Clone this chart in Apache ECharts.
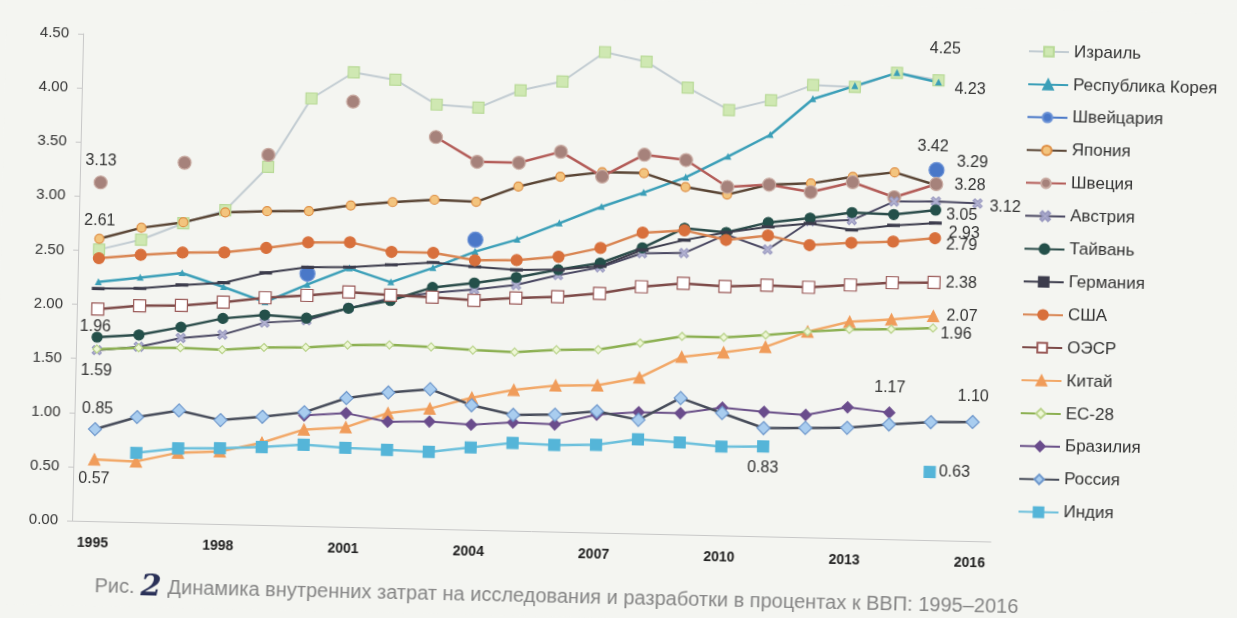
<!DOCTYPE html>
<html>
<head>
<meta charset="utf-8">
<script src="https://cdn.jsdelivr.net/npm/echarts@6/dist/echarts.min.js"></script>
<style>
    html, body { margin: 0; padding: 0; background: #f4f5f1; overflow: hidden; }
    /* the original is a slightly tilted photo of a printed page */
    #chart { width: 1237px; height: 618px; transform: rotate(1.3deg); transform-origin: 50% 50%; }
</style>
</head>
<body>
<div id="chart"></div>
<script>
var years = ['1995','1996','1997','1998','1999','2000','2001','2002','2003','2004','2005',
             '2006','2007','2008','2009','2010','2011','2012','2013','2014','2015','2016'];

var israel = [2.51, 2.61, 2.77, 2.90, 3.31, 3.95, 4.20, 4.14, 3.92, 3.90, 4.07, 4.16, 4.44, 4.36, 4.13, 3.93, 4.03, 4.18, 4.17, 4.31, 4.25, null];
var korea = [2.21, 2.26, 2.31, 2.19, 2.06, 2.23, 2.39, 2.27, 2.41, 2.57, 2.69, 2.85, 3.01, 3.15, 3.30, 3.50, 3.71, 4.05, 4.18, 4.31, 4.23, null];
var switzerland = [null, null, null, null, null, 2.33, null, null, null, 2.68, null, null, null, null, null, null, null, null, null, null, 3.42, null];
var japan = [2.61, 2.72, 2.78, 2.88, 2.90, 2.91, 2.97, 3.01, 3.04, 3.03, 3.18, 3.28, 3.33, 3.33, 3.21, 3.15, 3.25, 3.27, 3.34, 3.39, 3.28, null];
var sweden = [3.13, null, 3.33, null, 3.42, null, 3.93, null, 3.62, 3.40, 3.40, 3.51, 3.29, 3.50, 3.46, 3.22, 3.25, 3.19, 3.29, 3.16, 3.29, null];
var austria = [1.58, 1.62, 1.71, 1.75, 1.87, 1.90, 2.02, 2.12, 2.18, 2.22, 2.27, 2.37, 2.45, 2.59, 2.60, 2.78, 2.65, 2.92, 2.94, 3.12, 3.13, 3.12];
var taiwan = [1.70, 1.73, 1.81, 1.90, 1.94, 1.92, 2.02, 2.10, 2.23, 2.28, 2.34, 2.42, 2.49, 2.64, 2.83, 2.80, 2.90, 2.95, 3.01, 3.00, 3.05, null];
var germany = [2.15, 2.16, 2.20, 2.23, 2.33, 2.39, 2.40, 2.43, 2.46, 2.43, 2.41, 2.42, 2.46, 2.62, 2.72, 2.80, 2.86, 2.90, 2.85, 2.90, 2.93, null];
var usa = [2.43, 2.47, 2.50, 2.51, 2.56, 2.62, 2.63, 2.55, 2.55, 2.49, 2.50, 2.54, 2.63, 2.78, 2.81, 2.73, 2.78, 2.70, 2.73, 2.75, 2.79, null];
var oecd = [1.96, 2.00, 2.01, 2.05, 2.10, 2.13, 2.17, 2.15, 2.14, 2.12, 2.15, 2.17, 2.21, 2.28, 2.32, 2.30, 2.32, 2.31, 2.34, 2.37, 2.38, null];
var china = [0.57, 0.56, 0.65, 0.67, 0.76, 0.89, 0.92, 1.06, 1.11, 1.22, 1.30, 1.35, 1.36, 1.44, 1.64, 1.69, 1.75, 1.90, 2.00, 2.03, 2.07, null];
var eu28 = [1.59, 1.61, 1.62, 1.61, 1.64, 1.65, 1.68, 1.69, 1.68, 1.66, 1.65, 1.68, 1.69, 1.76, 1.83, 1.83, 1.86, 1.90, 1.93, 1.94, 1.96, null];
var brazil = [null, null, null, null, null, 1.02, 1.05, 0.98, 0.99, 0.97, 1.00, 0.99, 1.09, 1.12, 1.12, 1.18, 1.15, 1.13, 1.21, 1.17, null, null];
var russia = [0.85, 0.97, 1.04, 0.96, 1.00, 1.05, 1.19, 1.25, 1.29, 1.15, 1.07, 1.08, 1.12, 1.05, 1.26, 1.13, 1.00, 1.01, 1.02, 1.06, 1.09, 1.10];
var india = [null, 0.64, 0.69, 0.70, 0.72, 0.75, 0.73, 0.72, 0.71, 0.76, 0.81, 0.80, 0.81, 0.87, 0.85, 0.82, 0.83, null, null, null, 0.63, null];

var caption = 'Динамика внутренних затрат на исследования и разработки в процентах к ВВП: 1995–2016';

var crossPath = 'path://M0,2L2,0L5,3L8,0L10,2L7,5L10,8L8,10L5,7L2,10L0,8L3,5Z';

// which points carry a value label: [year index, position, offset]
var labelSpots = {
    'Израиль': [[20, 'top', [6, -12]]],
    'Республика Корея': [[20, 'right', [8, 6]]],
    'Швейцария': [[20, 'top', [-4, -2]]],
    'Швеция': [[0, 'top', [0, -2]], [20, 'right', [8, -22]]],
    'Япония': [[0, 'top', [0, 0]], [20, 'right', [8, 0]]],
    'Австрия': [[21, 'right', [2, 3]]],
    'Тайвань': [[20, 'right', [0, 5]]],
    'Германия': [[20, 'right', [2, 10]]],
    'США': [[20, 'right', [0, 7]]],
    'ОЭСР': [[0, 'bottom', [-2, -2]], [20, 'right', [0, 0]]],
    'Китай': [[0, 'bottom', [0, 0]], [20, 'right', [2, 0]]],
    'ЕС-28': [[0, 'bottom', [0, 4]], [20, 'right', [-2, 6]]],
    'Бразилия': [[19, 'top', [0, -6]]],
    'Россия': [[0, 'top', [2, 0]], [21, 'top', [0, -5]]],
    'Индия': [[16, 'bottom', [0, 2]], [20, 'right', [-2, 0]]]
};

function build(name, values, lineColor, lineWidth, symbol, size, fill, border) {
    var spots = labelSpots[name] || [];
    var data = values.map(function (v, i) {
        var item = { value: v };
        spots.forEach(function (s) {
            if (s[0] === i) {
                item.label = { show: true, position: s[1], offset: s[2] };
            }
        });
        return item;
    });
    return {
        name: name,
        type: 'line',
        data: data,
        connectNulls: false,
        showAllSymbol: true,
        symbol: symbol,
        symbolSize: size,
        lineStyle: { color: lineColor, width: lineWidth },
        itemStyle: { color: fill, borderColor: border, borderWidth: 1.2 },
        label: {
            show: false,
            color: '#333',
            fontSize: 16,
            fontFamily: 'Liberation Sans',
            formatter: function (p) { return p.value.toFixed(2); }
        },
        emphasis: { disabled: true }
    };
}

var myChart = echarts.init(document.getElementById('chart'));

var option = {
    backgroundColor: '#f4f5f1',
    animation: false,
    title: {
        text: '{a|Рис.}{n|2}{a|' + caption + '}',
        left: 96,
        top: 578,
        textStyle: {
            fontWeight: 'normal',
            rich: {
                a: { fontSize: 20, color: '#858585', fontFamily: 'Liberation Sans', fontWeight: 'normal' },
                n: { fontSize: 30, color: '#2a3158', fontFamily: 'DejaVu Serif', fontStyle: 'italic', fontWeight: 'bold', padding: [0, 6, 0, 6] }
            }
        }
    },
    legend: {
        orient: 'vertical',
        left: 1017,
        top: 28,
        itemWidth: 40,
        itemHeight: 12,
        itemGap: 14.9,
        textStyle: { color: '#333', fontSize: 17, fontFamily: 'Liberation Sans', lineHeight: 18 }
    },
    grid: {
        left: 77,
        right: 241,
        top: 46,
        bottom: 85
    },
    xAxis: {
        type: 'category',
        data: years,
        boundaryGap: true,
        axisLine: { lineStyle: { color: '#c8c8c8' } },
        axisTick: { interval: 0, lineStyle: { color: '#c8c8c8' } },
        axisLabel: {
            interval: 2,
            margin: 15,
            color: '#222',
            fontSize: 14,
            fontWeight: 'bold',
            fontFamily: 'Liberation Sans'
        }
    },
    yAxis: {
        type: 'value',
        min: 0,
        max: 4.5,
        interval: 0.5,
        axisLine: { show: true, lineStyle: { color: '#c8c8c8' } },
        axisTick: { show: true, lineStyle: { color: '#c8c8c8' } },
        splitLine: { show: false },
        axisLabel: {
            margin: 14,
            color: '#333',
            fontSize: 15,
            fontFamily: 'Liberation Sans',
            formatter: function (v) { return v.toFixed(2); }
        }
    },
    series: [
        build('Израиль', israel, '#c2ccd2', 2, 'rect', 11, '#cfe8b2', '#b9da98'),
        build('Республика Корея', korea, '#3b9fb8', 2.5, 'triangle', 5, '#3b9fb8', '#3b9fb8'),
        build('Швейцария', switzerland, '#4a78c8', 2, 'circle', 15, '#4a78c8', '#6d93d6'),
        build('Япония', japan, '#5a4535', 2.5, 'circle', 9, '#f3c47e', '#df8f45'),
        build('Швеция', sweden, '#b35c58', 2.5, 'circle', 13, '#a6827b', '#c9aba2'),
        build('Австрия', austria, '#4a4862', 2, crossPath, 9, '#b4b4d2', '#9a9ac0'),
        build('Тайвань', taiwan, '#2b4c4a', 2.5, 'circle', 10, '#24504a', '#24504a'),
        build('Германия', germany, '#3c3c4c', 2, 'rect', [8, 2], '#3c3c4c', '#3c3c4c'),
        build('США', usa, '#d98552', 2.5, 'circle', 11, '#d8703c', '#d8703c'),
        build('ОЭСР', oecd, '#7d4a48', 2.5, 'rect', 12, '#ffffff', '#9a5a58'),
        build('Китай', china, '#f2a868', 2.5, 'triangle', 11, '#f09c5a', '#f09c5a'),
        build('ЕС-28', eu28, '#8cb052', 2.5, 'diamond', 8, '#eef7d6', '#b9d38a'),
        build('Бразилия', brazil, '#6a5088', 2, 'diamond', 11, '#6a4c8c', '#6a4c8c'),
        build('Россия', russia, '#474c5a', 2.5, 'diamond', 13, '#a9cdef', '#6f98cc'),
        build('Индия', india, '#6cc0dc', 2.5, 'rect', 11, '#55b5d8', '#55b5d8')
    ]
};

myChart.setOption(option);
</script>
</body>
</html>
